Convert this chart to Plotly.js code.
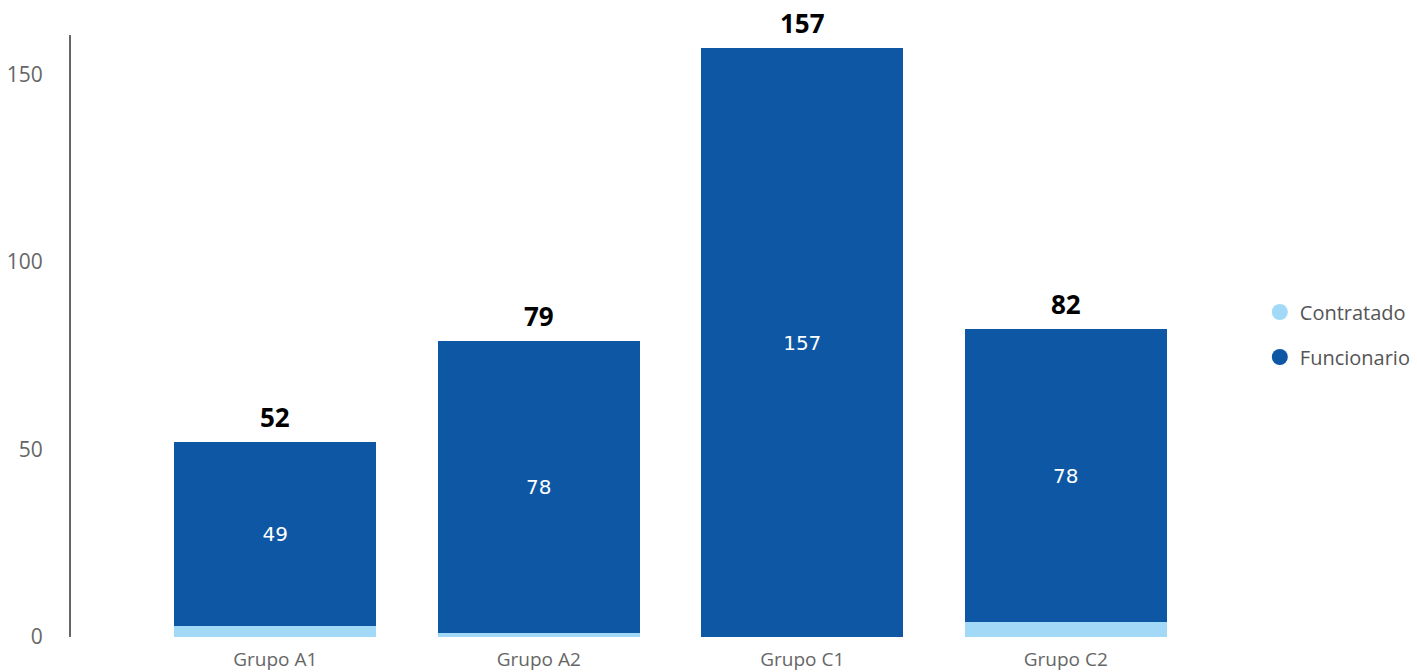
<!DOCTYPE html>
<html><head><meta charset="utf-8">
<script src="https://cdn.plot.ly/plotly-3.0.1.min.js"></script>
<style>html,body{margin:0;padding:0;background:#fff}#chart{width:1417px;height:672px}</style>
</head><body><div id="chart"></div>
<script>
const categories = ["Grupo A1", "Grupo A2", "Grupo C1", "Grupo C2"];
const contratado = [3, 1, 0, 4];
const funcionario = [49, 78, 157, 78];
const yTicks = [0, 50, 100, 150];
const totals = categories.map((c, i) => contratado[i] + funcionario[i]);

const colContr = "#A2D9F6";
const colFunc = "#0E57A4";

const traces = [
  {type: "bar", x: categories, y: contratado, name: "Contratado", marker: {color: colContr},
   showlegend: false, hoverinfo: "none"},
  {type: "bar", x: categories, y: funcionario, name: "Funcionario", marker: {color: colFunc},
   text: funcionario.map(String), textposition: "inside", insidetextanchor: "middle",
   textfont: {color: "#fff", size: 20, family: "DejaVu Sans"}, showlegend: false, hoverinfo: "none"},
  {type: "scatter", x: [null], y: [null], mode: "markers", name: "Contratado", legendgroup: "a",
   marker: {color: colContr, size: 20, symbol: "circle"}},
  {type: "scatter", x: [null], y: [null], mode: "markers", name: "Funcionario", legendgroup: "b",
   marker: {color: colFunc, size: 20, symbol: "circle"}}
];

const annotations = categories.map((c, i) => ({
  x: c, y: totals[i], xref: "x", yref: "y", text: String(totals[i]), showarrow: false,
  yanchor: "bottom", yshift: 5, font: {size: 26, color: "#000", family: "Open Sans", weight: 700}
}));

const layout = {
  width: 1417, height: 672,
  margin: {l: 71, r: 147, t: 35, b: 35, autoexpand: false},
  barmode: "stack", bargap: 0.233,
  paper_bgcolor: "#fff", plot_bgcolor: "#fff",
  font: {family: "Open Sans", color: "#666"},
  xaxis: {type: "category", range: [-0.775, 3.775], showline: false, showgrid: false, zeroline: false,
          tickfont: {size: 19, color: "#666"}, ticks: "", ticklabelstandoff: 9, fixedrange: true},
  yaxis: {range: [0, 160.5], tickvals: yTicks, showline: true, linecolor: "#666", linewidth: 2,
          showgrid: false, zeroline: false, ticks: "", ticklabelstandoff: 22,
          tickfont: {size: 21, color: "#666"}, fixedrange: true},
  showlegend: true,
  legend: {x: 0.9915, xanchor: "left", y: 0.5025, yanchor: "middle", traceorder: "grouped",
           tracegroupgap: 16, itemwidth: 30, font: {size: 20, color: "#555"}},
  annotations: annotations
};

Plotly.newPlot("chart", traces, layout, {displayModeBar: false, staticPlot: true});
</script></body></html>
